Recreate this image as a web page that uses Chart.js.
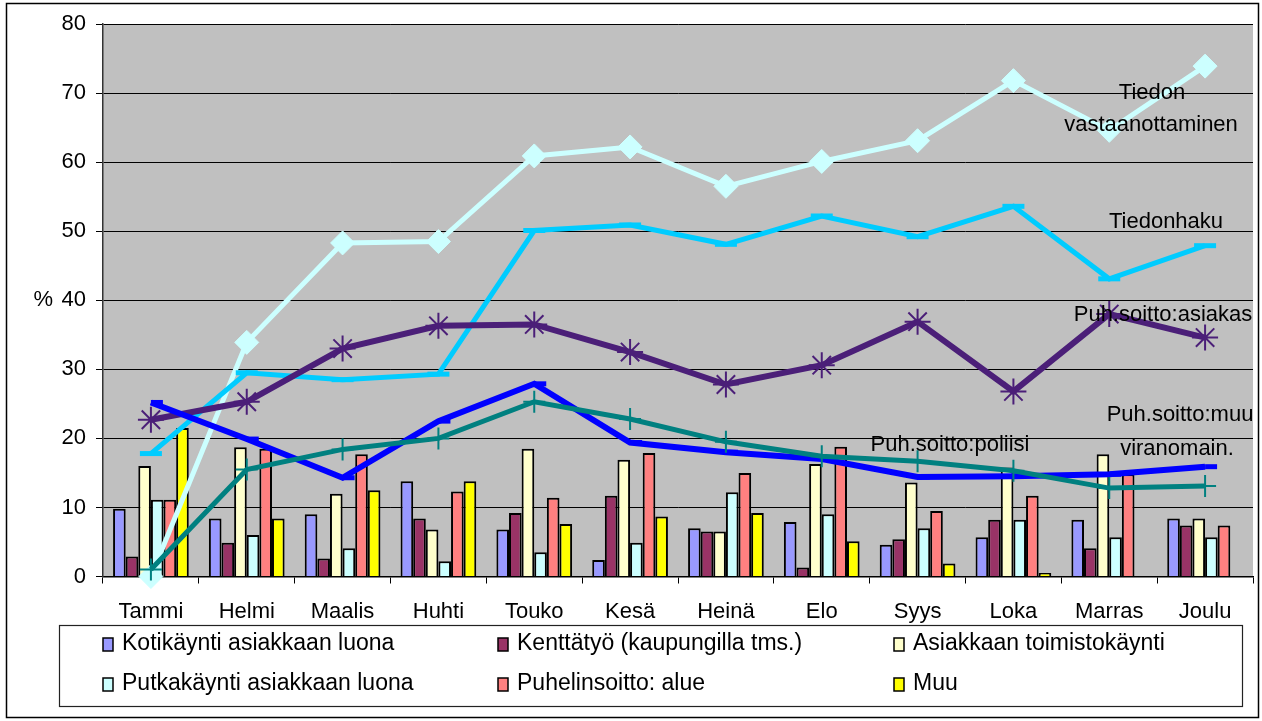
<!DOCTYPE html>
<html>
<head>
<meta charset="utf-8">
<script src="https://cdn.jsdelivr.net/npm/chart.js@4/dist/chart.umd.min.js"></script>
<style>
html,body{margin:0;padding:0;background:#fff;}
#wrap{width:1262px;height:721px;position:relative;}
</style>
</head>
<body>
<div id="wrap"><canvas id="c" width="1262" height="721"></canvas></div>
<script>
const months = ["Tammi","Helmi","Maalis","Huhti","Touko","Kesä","Heinä","Elo","Syys","Loka","Marras","Joulu"];
const yTicks = [0,10,20,30,40,50,60,70,80];

// Bar series (%)
const kotikaynti   = [9.8, 8.4, 9.0, 13.8, 6.8, 2.4, 7.0, 7.9, 4.6, 5.7, 8.2, 8.4];
const kenttatyo    = [2.9, 4.9, 2.6, 8.4, 9.2, 11.7, 6.5, 1.3, 5.4, 8.2, 4.1, 7.4];
const toimisto     = [16.0, 18.7, 12.0, 6.8, 18.5, 16.9, 6.5, 16.3, 13.6, 15.8, 17.7, 8.4];
const putka        = [11.1, 6.0, 4.1, 2.2, 3.5, 4.9, 12.2, 9.0, 7.0, 8.2, 5.7, 5.7];
const puhelinAlue  = [11.1, 18.5, 17.7, 12.3, 11.4, 17.9, 15.0, 18.8, 9.5, 11.7, 14.8, 7.4];
const muu          = [21.5, 8.4, 12.5, 13.8, 7.6, 8.7, 9.2, 5.1, 1.9, 0.5, 0, 0];

// Line series (%)
const tiedonVastaanotto = [0, 33.9, 48.3, 48.5, 60.9, 62.2, 56.5, 60.1, 63.1, 71.8, 64.6, 73.9];
const tiedonhaku        = [17.8, 29.5, 28.5, 29.3, 50.1, 50.9, 48.1, 52.2, 49.2, 53.6, 43.1, 47.9];
const puhAsiakas        = [22.7, 25.3, 33.0, 36.3, 36.5, 32.5, 27.8, 30.6, 36.9, 26.8, 38.0, 34.6];
const puhMuuViranom     = [25.2, 19.9, 14.3, 22.5, 27.9, 19.4, 18.0, 17.0, 14.4, 14.5, 14.8, 15.9];
const puhPoliisi        = [1.0, 15.5, 18.4, 20.0, 25.3, 22.8, 19.5, 17.4, 16.7, 15.3, 12.8, 13.1];

const FONT = "'Liberation Sans', Arial, sans-serif";

function bar(label, data, color){
  return {type:'bar', label, data, backgroundColor:color, borderColor:'#000', borderWidth:2,
    categoryPercentage:0.79, barPercentage:1.0, order:10, inLegend:true};
}
function line(label, data, color, width, pstyle, prad, pbw){
  return {type:'line', label, data, borderColor:color, backgroundColor:color, borderWidth:width,
    pointStyle:pstyle, pointRadius:prad, pointBorderWidth:pbw, pointBorderColor:color,
    pointBackgroundColor:color, tension:0, clip:false, order:1, fill:false, inLegend:false};
}

const datasets = [
  line('Puh.soitto:poliisi', puhPoliisi, '#008080', 5, 'cross', 11, 2),
  line('Puh.soitto:muu viranomain.', puhMuuViranom, '#0000FF', 6, 'dash', 12, 5),
  line('Puh.soitto:asiakas', puhAsiakas, '#4B1F78', 6, 'star', 13, 2),
  line('Tiedonhaku', tiedonhaku, '#00CCFF', 5, 'line', 11, 5),
  line('Tiedon vastaanottaminen', tiedonVastaanotto, '#CCFFFF', 5, 'rectRot', 12, 1),
  bar('Kotikäynti asiakkaan luona', kotikaynti, '#9999FF'),
  bar('Kenttätyö (kaupungilla tms.)', kenttatyo, '#993366'),
  bar('Asiakkaan toimistokäynti', toimisto, '#FFFFCC'),
  bar('Putkakäynti asiakkaan luona', putka, '#CCFFFF'),
  bar('Puhelinsoitto: alue', puhelinAlue, '#FF8080'),
  bar('Muu', muu, '#FFFF00'),
];

const bgPlugin = {
  id:'bg',
  beforeDraw(chart){
    const {ctx, chartArea:a} = chart;
    ctx.save();
    ctx.fillStyle='#fff';
    ctx.fillRect(0,0,chart.width,chart.height);
    ctx.fillStyle='#C0C0C0';
    ctx.fillRect(a.left,a.top,a.right-a.left,a.bottom-a.top);
    ctx.strokeStyle='#000';
    ctx.lineWidth=1.5;
    ctx.strokeRect(6.5,3.5,1252,714);
    ctx.restore();
  },
  afterDraw(chart){
    const {ctx} = chart;
    const y = chart.scales.y;
    ctx.save();
    ctx.font = '22px '+FONT;
    ctx.fillStyle='#000';
    ctx.textBaseline='middle';
    ctx.textAlign='right';
    ctx.fillText('%', 53, y.getPixelForValue(40));
    // line labels
    ctx.textAlign='center';
    const labels = [
      ['Tiedon',1152,93],['vastaanottaminen',1151,125],
      ['Tiedonhaku',1166,222],['Puh.soitto:asiakas',1163,315],
      ['Puh.soitto:poliisi',950,445],['Puh.soitto:muu',1180,415],['viranomain.',1177,449]
    ];
    labels.forEach(l=>ctx.fillText(l[0],l[1],l[2]));
    // legend box
    ctx.fillStyle='#fff';
    ctx.fillRect(59,625,1184,82);
    ctx.strokeStyle='#222';
    ctx.lineWidth=1.2;
    ctx.strokeRect(59.5,625.5,1183,81);
    const cols=[103,498,894], rows=[644,684];
    let k=0;
    chart.data.datasets.forEach(ds=>{
      if(!ds.inLegend) return;
      const cx=cols[k%3], cy=rows[Math.floor(k/3)];
      ctx.fillStyle=ds.backgroundColor;
      ctx.fillRect(cx,cy-6,10,13);
      ctx.strokeStyle='#000';
      ctx.lineWidth=1.5;
      ctx.strokeRect(cx,cy-6,10,13);
      ctx.fillStyle='#000';
      ctx.textAlign='left';
      ctx.font='23px '+FONT;
      ctx.fillText(ds.label,cx+19,cy);
      k++;
    });
    ctx.restore();
  }
};

new Chart(document.getElementById('c'), {
  data:{labels:months, datasets},
  options:{
    responsive:false, animation:false,
    layout:{autoPadding:false, padding:{left:0,top:24,right:9,bottom:0}},
    plugins:{legend:{display:false}, tooltip:{enabled:false}},
    scales:{
      x:{
        offset:true,
        grid:{display:true, offset:true, drawOnChartArea:false, drawTicks:true, tickLength:7, color:'#000', lineWidth:1},
        border:{display:true, color:'#000', width:1.5},
        ticks:{font:{family:FONT,size:22}, color:'#000', padding:15, maxRotation:0, autoSkip:false},
        afterFit(s){ s.height = 144.5; }
      },
      y:{
        min:0, max:80,
        afterBuildTicks(s){ s.ticks = yTicks.map(v=>({value:v})); },
        grid:{color:'#000', lineWidth:1, tickLength:7, drawTicks:true},
        border:{display:true, color:'#333', width:1.5},
        ticks:{font:{family:FONT,size:22}, color:'#000', padding:10},
        afterFit(s){ s.width = 103; }
      }
    }
  },
  plugins:[bgPlugin]
});
</script>
</body>
</html>
